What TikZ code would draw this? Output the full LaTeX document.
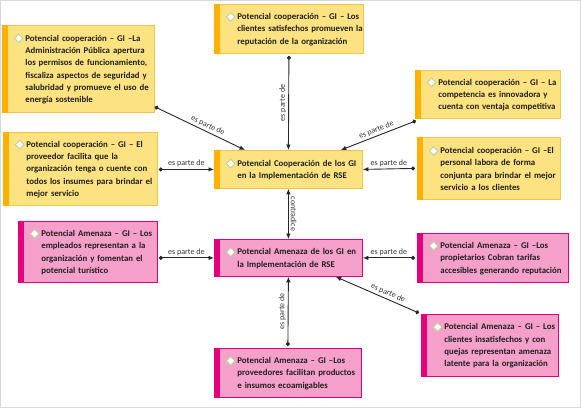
\documentclass[tikz,border=0pt]{standalone}
\usepackage{fontspec}
\setmainfont{Carlito}
\usetikzlibrary{arrows.meta}
\definecolor{coopfill}{RGB}{252,226,128}
\definecolor{coopline}{RGB}{242,196,72}
\definecolor{coopbar}{RGB}{255,176,0}
\definecolor{amenfill}{RGB}{244,160,202}
\definecolor{amenline}{RGB}{226,0,122}
\definecolor{amenbar}{RGB}{230,0,126}
\definecolor{giline}{RGB}{38,38,38}
\definecolor{gemline}{RGB}{184,212,156}
\newcommand{\boxfont}{\fontsize{8.8}{12.3}\selectfont\bfseries}
\newcommand{\tagfont}{\fontsize{8}{9.6}\selectfont}
\newcommand{\gem}{\tikz[baseline=-0.65ex]\draw[draw=gemline,fill=white,line width=0.9pt]
  (0pt,4.3pt) -- (4.3pt,0pt) -- (0pt,-4.3pt) -- (-4.3pt,0pt) -- cycle;}
\newcommand{\gi}[1]{\leftskip=21pt\rightskip=-8pt plus 1fil\leavevmode\llap{\gem\hspace{2pt}}#1\par}

\begin{document}
\begin{tikzpicture}[x=1pt,y=-1pt,
    gibox/.style={rectangle,anchor=north west,line width=0.8pt,inner xsep=2pt,inner ysep=0pt,
      align=left,font=\boxfont,text=black!88},
    coopbox/.style={gibox,draw=coopline,fill=coopfill},
    amenbox/.style={gibox,draw=amenline,fill=amenfill},
    link/.style={draw=giline,line width=0.9pt},
    part/.style={link,{Circle[length=4pt]}-{Latex[length=5.5pt,width=4.5pt]}},
    partback/.style={link,{Latex[length=5.5pt,width=4.5pt]}-{Circle[length=4pt]}},
    tag/.style={font=\tagfont,text=black!80,inner sep=2pt}
  ]
  \useasboundingbox (0,0) rectangle (581,408);
  \draw[gray!30,line width=1pt] (0.5,0.5) rectangle (580.5,407.5);

  % cooperation side
  \node[coopbox,minimum width=152pt,minimum height=87pt,text width=148pt] (adm) at (2,25)
    {\gi{Potencial cooperación – GI –La\\Administración Pública apertura\\los permisos de funcionamiento,\\fiscaliza aspectos de seguridad y\\salubridad y promueve el uso de\\energía sostenible}};
  \node[coopbox,minimum width=149pt,minimum height=49pt,text width=145pt] (clisat) at (214,4)
    {\gi{Potencial cooperación – GI – Los\\clientes satisfechos promueven la\\reputación de la organización}};
  \node[coopbox,minimum width=145pt,minimum height=48pt,text width=141pt] (compet) at (415,70)
    {\gi{Potencial cooperación – GI – La\\competencia es innovadora y\\cuenta con ventaja competitiva}};
  \node[coopbox,minimum width=154pt,minimum height=73pt,text width=150pt] (provee) at (3,132)
    {\gi{Potencial cooperación – GI – El\\proveedor facilita que la\\organización tenga o cuente con\\todos los insumes para brindar el\\mejor servicio}};
  \node[coopbox,minimum width=143pt,minimum height=62pt,text width=139pt] (personal) at (417,137)
    {\gi{Potencial cooperación – GI –El\\personal labora de forma\\conjunta para brindar el mejor\\servicio a los clientes}};
  \node[coopbox,minimum width=148pt,minimum height=38pt,text width=144pt] (coop) at (214,150)
    {\gi{Potencial Cooperación de los GI\\en la Implementación de RSE}};

  % threat side
  \node[amenbox,minimum width=139pt,minimum height=61pt,text width=135pt] (emple) at (18,221)
    {\gi{Potencial Amenaza – GI – Los\\empleados representan a la\\organización y fomentan el\\potencial turístico}};
  \node[amenbox,minimum width=148pt,minimum height=37pt,text width=144pt] (amen) at (214,239)
    {\gi{Potencial Amenaza de los GI en\\la Implementación de RSE}};
  \node[amenbox,minimum width=151pt,minimum height=49pt,text width=147pt] (propiet) at (417,233)
    {\gi{Potencial Amenaza – GI –Los\\propietarios Cobran tarifas\\accesibles generando reputación}};
  \node[amenbox,minimum width=147pt,minimum height=49pt,text width=143pt] (proveco) at (214,348)
    {\gi{Potencial Amenaza – GI –Los\\proveedores facilitan productos\\e insumos ecoamigables}};
  \node[amenbox,minimum width=137pt,minimum height=62pt,text width=133pt] (cliins) at (421,314)
    {\gi{Potencial Amenaza – GI – Los\\clientes insatisfechos y con\\quejas representan amenaza\\latente para la organización}};

  % left bars
  \foreach \n in {adm,clisat,compet,provee,personal,coop}
    \fill[coopbar] ([xshift=-0.4pt,yshift=0.4pt]\n.north west) rectangle ([xshift=6pt,yshift=-0.4pt]\n.south west);
  \foreach \n in {emple,amen,propiet,proveco,cliins}
    \fill[amenbar] ([xshift=-0.4pt,yshift=0.4pt]\n.north west) rectangle ([xshift=6pt,yshift=-0.4pt]\n.south west);

  % links
  \draw[part] ([yshift=6pt]adm.south east) -- ([xshift=31pt]coop.north west)
    node[tag,pos=0.56,above,sloped] {es parte de};
  \draw[part] ([yshift=-2pt]clisat.south) -- (coop.north)
    node[tag,midway,rotate=90,anchor=south] {es parte de};
  \draw[partback] ([xshift=-22pt]coop.north east) -- ([xshift=1pt,yshift=-2pt]compet.south west)
    node[tag,midway,above,sloped] {es parte de};
  \draw[part] ([xshift=1pt]provee.east |- coop.west) -- (coop.west)
    node[tag,midway,above] {es parte de};
  \draw[partback] (coop.east) -- ([xshift=-2pt]personal.west)
    node[tag,midway,above] {es parte de};
  \draw[link,{Latex[length=5.5pt,width=4.5pt]}-{Latex[length=5.5pt,width=4.5pt]}] (coop.south) -- (amen.north)
    node[tag,midway,rotate=-90,anchor=south] {contradice};
  \draw[part] ([xshift=1pt]emple.east |- amen.west) -- (amen.west)
    node[tag,midway,above] {es parte de};
  \draw[partback] (amen.east) -- ([xshift=-2pt]propiet.west |- amen.east)
    node[tag,midway,above] {es parte de};
  \draw[partback] ([xshift=-27pt]amen.south east) -- ([xshift=-2pt,yshift=1pt]cliins.north west)
    node[tag,pos=0.6,above,sloped] {es parte de};
  \draw[part] ([yshift=2pt]proveco.north) -- (amen.south)
    node[tag,midway,rotate=90,anchor=south] {es parte de};
\end{tikzpicture}
\end{document}
